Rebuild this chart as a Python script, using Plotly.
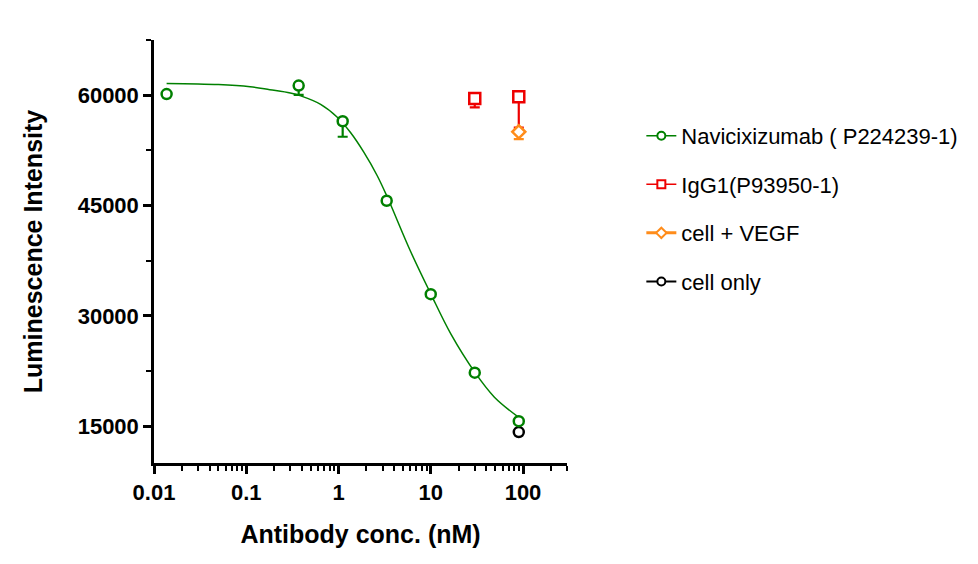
import plotly.graph_objects as go

# Navicixizumab (P224239-1) dose response
conc = [0.0137, 0.37, 1.11, 3.33, 10, 30, 90]
navi_mean = [60150, 61300, 56450, 45650, 32950, 22280, 15690]
navi_err = [0, 1250, 2100, 0, 0, 0, 0]

# fitted curve
fit_x = [0.0137, 0.05, 0.11, 0.18, 0.30, 0.39, 0.64, 0.97, 1.35, 1.88, 2.63, 3.38, 6.0, 10, 16.5, 30, 49, 90]
fit_y = [61600, 61450, 61150, 60750, 60300, 59900, 58750, 57000, 54920, 52250, 49050, 46150, 38850, 33000, 27550, 22350, 18950, 16200]

# controls
igg_conc = [30, 90]
igg_mean = [59550, 59800]
igg_err = [1200, 4200]

vegf_conc = [90]
vegf_mean = [55020]
vegf_err = [1000]

cell_conc = [90]
cell_mean = [14200]

names = ["Navicixizumab ( P224239-1)", "IgG1(P93950-1)", "cell + VEGF", "cell only"]
colors = ["#008000", "#ee0000", "#ff8c1a", "#000000"]
symbols = ["circle", "square", "diamond", "circle"]

y_ticks = [15000, 30000, 45000, 60000]
x_ticks = [0.01, 0.1, 1, 10, 100]

FONT = "Liberation Sans, Arial, sans-serif"

fig = go.Figure()

fig.add_trace(go.Scatter(x=fit_x, y=fit_y, mode="lines", line=dict(color=colors[0], width=1.5, shape="spline"),
                         showlegend=False, hoverinfo="skip"))

def err(vals, c):
    return dict(type="data", symmetric=False, array=[0] * len(vals), arrayminus=vals,
                color=c, thickness=2.2, width=5)

def mk(i, size):
    # hollow look: white fill so the error bar stem is hidden under the marker
    return dict(symbol=symbols[i], size=size, color="white", line=dict(width=2.5, color=colors[i]))

fig.add_trace(go.Scatter(x=cell_conc, y=cell_mean, mode="markers", showlegend=False, marker=mk(3, 10)))
fig.add_trace(go.Scatter(x=conc, y=navi_mean, mode="markers", showlegend=False, marker=mk(0, 10),
                         error_y=err(navi_err, colors[0])))
fig.add_trace(go.Scatter(x=igg_conc, y=igg_mean, mode="markers", showlegend=False, marker=mk(1, 11),
                         error_y=err(igg_err, colors[1])))
fig.add_trace(go.Scatter(x=vegf_conc, y=vegf_mean, mode="markers", showlegend=False, marker=mk(2, 10),
                         error_y=err(vegf_err, colors[2])))

# legend entries (line + marker like Prism)
lw = [1.5, 1.5, 3, 2]
for i, n in enumerate(names):
    fig.add_trace(go.Scatter(x=[None], y=[None], mode="lines+markers", name=n, legendgroup=n,
                             line=dict(color=colors[i], width=lw[i]),
                             marker=dict(symbol=symbols[i], size=8, color="white", line=dict(width=2, color=colors[i]))))

x_minor = [m * 10 ** e for e in range(-2, 3) for m in range(2, 10) if m * 10 ** e <= 300]

# page body has an 8px margin, so the figure is a bit smaller than the window
fig.update_layout(
    width=970, height=556,
    margin=dict(l=146, r=411, t=32, b=101),
    plot_bgcolor="white", paper_bgcolor="white",
    font=dict(family=FONT, color="black"),
    legend=dict(x=1.18, y=0.823, xanchor="left", yanchor="top", font=dict(size=22, family=FONT),
                tracegroupgap=17, bgcolor="rgba(0,0,0,0)"),
    xaxis=dict(type="log", range=[-2, 2.477], showgrid=False, zeroline=False,
               showline=True, linecolor="black", linewidth=2.5,
               tickvals=x_ticks, ticktext=[str(v) for v in x_ticks],
               ticks="outside", ticklen=8, tickwidth=2.5, tickcolor="black",
               tickfont=dict(size=22, family=FONT, weight="bold"),
               minor=dict(tickvals=x_minor, ticks="outside", ticklen=5, tickwidth=2, tickcolor="black", showgrid=False),
               title=dict(text="<b>Antibody conc. (nM)</b>", font=dict(size=25, family=FONT), standoff=22)),
    yaxis=dict(range=[10000, 67500], showgrid=False, zeroline=False,
               showline=True, linecolor="black", linewidth=2.5,
               tickvals=y_ticks, ticktext=[str(v) for v in y_ticks],
               ticks="outside", ticklen=8, tickwidth=2.5, tickcolor="black",
               tickfont=dict(size=22, family=FONT, weight="bold"),
               minor=dict(tickvals=[22500, 37500, 52500, 67500], ticks="outside", ticklen=5, tickwidth=2,
                          tickcolor="black", showgrid=False),
               title=dict(text="<b>Luminescence Intensity</b>", font=dict(size=25, family=FONT), standoff=28)),
)

fig.write_html("out.html")
